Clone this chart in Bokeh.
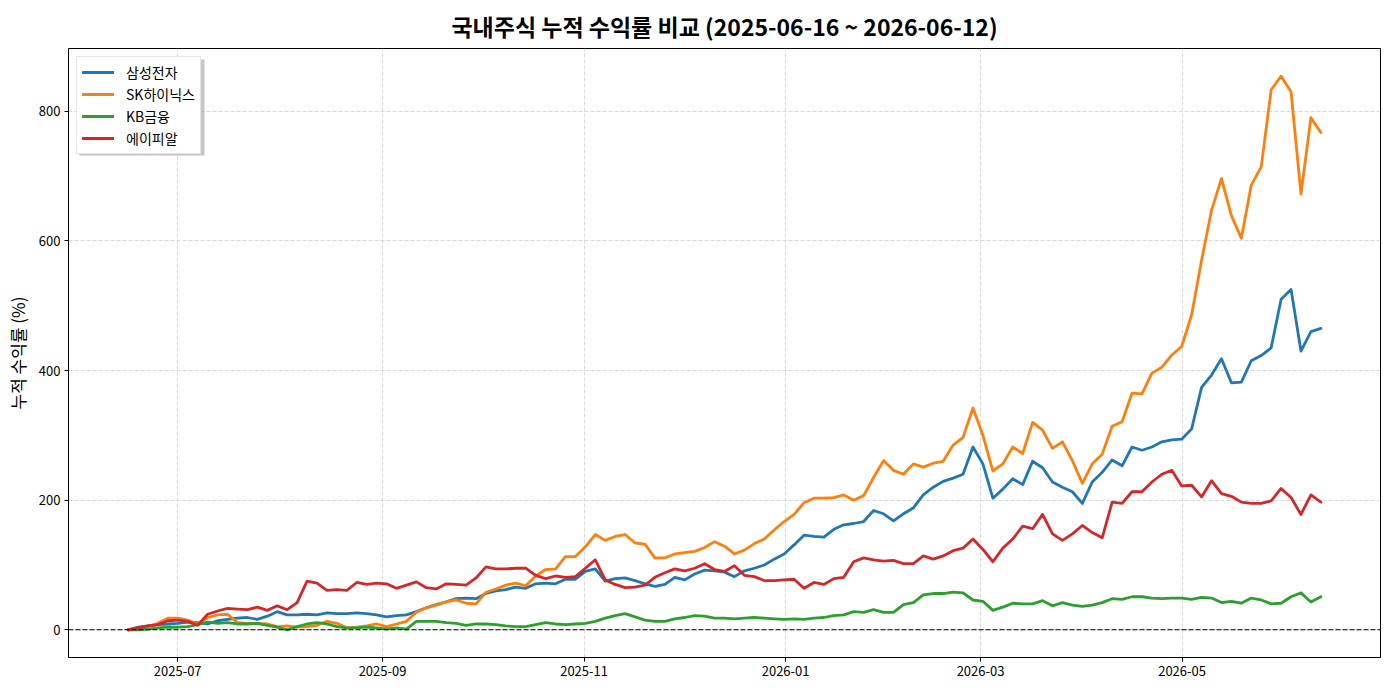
import pandas as pd
from bokeh.plotting import figure
from bokeh.models import (Range1d, FixedTicker, DatetimeTickFormatter, Span,
                          Legend, LegendItem, ColumnDataSource, BoxAnnotation)
from bokeh.embed import file_html
from bokeh.resources import INLINE

start_date = "2025-06-16"
end_date = "2026-06-12"
n_points = 121
dates = pd.date_range(start_date, end_date, periods=n_points)

samsung = [0, 4, 6, 8, 9, 10, 12, 11, 9, 14, 16, 18, 19, 16, 21, 28, 23, 23, 24, 23,
           26, 25, 25, 26, 25, 23, 20, 22, 23, 28, 34, 39, 43, 48, 49, 48, 56, 60, 62, 66,
           64, 71, 72, 71, 78, 78, 90, 94, 75, 79, 80, 76, 71, 67, 70, 81, 77, 86, 92, 91,
           89, 82, 91, 95, 100, 109, 117, 131, 146, 144, 143, 155, 162, 164, 167, 184, 179, 168, 179, 188,
           208, 220, 229, 234, 240, 282, 256, 203, 217, 233, 224, 260, 250, 228, 220, 213, 195, 228, 243, 262,
           253, 282, 277, 282, 290, 293, 294, 310, 374, 393, 418, 381, 382, 415, 423, 435, 510, 525, 430, 460,
           465]
skhynix = [0, 2, 5, 10, 18, 18, 15, 9, 19, 23, 24, 11, 10, 10, 9, 5, 6, 4, 5, 7,
           13, 10, 3, 4, 6, 9, 5, 9, 13, 27, 34, 38, 43, 46, 41, 40, 58, 63, 69, 72,
           68, 83, 93, 94, 113, 113, 128, 147, 138, 144, 147, 134, 132, 111, 111, 117, 119, 121, 127, 136,
           129, 117, 123, 133, 140, 154, 167, 178, 196, 203, 203, 204, 208, 200, 207, 235, 261, 246, 240, 256,
           251, 257, 260, 285, 297, 342, 300, 245, 256, 282, 272, 320, 308, 280, 290, 261, 226, 256, 271, 314,
           321, 365, 364, 396, 405, 424, 437, 486, 570, 647, 696, 639, 604, 686, 714, 833, 854, 830, 672, 790,
           767]
kb = [0, 0, 1, 3, 4, 4, 5, 8, 12, 10, 11, 9, 9, 10, 7, 4, 0, 5, 9, 11,
      9, 5, 3, 3, 4, 3, 1, 3, 1, 13, 13, 13, 11, 10, 7, 9, 9, 8, 6, 5,
      5, 8, 11, 9, 8, 9, 10, 13, 18, 22, 25, 20, 15, 13, 13, 17, 19, 22, 21, 18,
      18, 17, 18, 19, 18, 17, 16, 17, 16, 18, 19, 22, 23, 28, 27, 31, 27, 27, 39, 42,
      54, 56, 56, 58, 57, 46, 44, 30, 35, 41, 40, 40, 45, 37, 42, 38, 36, 38, 42, 48,
      47, 51, 51, 49, 48, 49, 49, 47, 50, 49, 42, 44, 41, 49, 46, 40, 41, 51, 57, 43,
      51]
apr = [0, 3, 6, 8, 14, 15, 13, 7, 24, 29, 33, 32, 31, 35, 30, 37, 31, 42, 75, 72,
       61, 62, 61, 73, 70, 72, 71, 64, 69, 74, 65, 63, 71, 70, 69, 80, 97, 94, 94, 95,
       95, 84, 79, 83, 81, 82, 95, 108, 77, 70, 65, 66, 69, 81, 88, 94, 91, 95, 102, 93,
       90, 99, 84, 82, 76, 76, 77, 78, 64, 73, 70, 79, 81, 105, 111, 108, 106, 107, 102, 102,
       114, 109, 114, 122, 126, 140, 124, 105, 126, 140, 160, 156, 178, 148, 138, 148, 161, 150, 142, 197,
       195, 213, 213, 228, 240, 246, 222, 223, 205, 230, 210, 206, 197, 195, 195, 199, 218, 204, 178, 208,
       197]

names = ["삼성전자", "SK하이닉스", "KB금융", "에이피알"]
colors = ["#1f77b4", "#ff7f0e", "#2ca02c", "#d62728"]
tick_dates = ["2025-07-01", "2025-09-01", "2025-11-01", "2026-01-01", "2026-03-01", "2026-05-01"]
y_ticks = [0, 200, 400, 600, 800]
title_text = "국내주식 누적 수익률 비교 (2025-06-16 ~ 2026-06-12)"
y_label = "누적 수익률 (%)"

FONT = "Noto Sans CJK KR"

src = ColumnDataSource(dict(date=dates, s0=samsung, s1=skhynix, s2=kb, s3=apr))

span = dates[-1] - dates[0]
x_pad = span * 0.05
all_vals = samsung + skhynix + kb + apr
lo, hi = min(all_vals), max(all_vals)
y_pad = (hi - lo) * 0.05

p = figure(width=1390, height=690, x_axis_type="datetime",
           x_range=Range1d(dates[0] - x_pad, dates[-1] + x_pad),
           y_range=Range1d(lo - y_pad, hi + y_pad),
           output_backend="svg", toolbar_location=None,
           min_border_left=68, min_border_right=10,
           min_border_top=48, min_border_bottom=33)

p.title.text = title_text
p.title.align = "center"
p.title.vertical_align = "top"
p.title.standoff = 8
p.title.text_font = FONT
p.title.text_font_size = "23px"
p.title.text_font_style = "bold"
p.title.text_color = "black"

renderers = []
for i, (name, c) in enumerate(zip(names, colors)):
    r = p.line(x="date", y=f"s{i}", source=src, line_width=2.8, line_color=c,
               line_join="round", line_cap="round")
    renderers.append(r)

zero = Span(location=0, dimension="width", line_color="black",
            line_width=1.1, line_dash="5 2")
p.add_layout(zero)

tick_ms = [int(t.value // 10**6) for t in pd.to_datetime(tick_dates)]
p.xaxis.ticker = FixedTicker(ticks=tick_ms)
p.xaxis.formatter = DatetimeTickFormatter(days="%Y-%m", months="%Y-%m", years="%Y-%m")
p.yaxis.ticker = FixedTicker(ticks=y_ticks)

for ax in (p.xaxis, p.yaxis):
    ax.major_label_text_font = FONT
    ax.major_label_text_font_size = "13px"
    ax.major_label_text_color = "black"
    ax.axis_line_color = "black"
    ax.major_tick_line_color = "black"
    ax.minor_tick_line_color = None
    ax.major_tick_out = 4
    ax.major_tick_in = 0
    ax.major_label_standoff = 4

p.yaxis.axis_label = y_label
p.yaxis.axis_label_text_font = FONT
p.yaxis.axis_label_text_font_size = "17px"
p.yaxis.axis_label_text_font_style = "normal"
p.yaxis.axis_label_text_color = "black"
p.yaxis.axis_label_standoff = 6

p.grid.grid_line_color = "#cfcfcf"
p.grid.grid_line_dash = "4 2"
p.grid.grid_line_width = 0.8

p.outline_line_color = "black"
p.outline_line_width = 1
p.background_fill_color = "white"

shadow = BoxAnnotation(left=79, right=204, top=59, bottom=155,
                       left_units="canvas", right_units="canvas",
                       top_units="canvas", bottom_units="canvas",
                       fill_color="#a0a0a0", fill_alpha=0.6, line_color=None)
p.add_layout(shadow)

legend = Legend(items=[LegendItem(label=n, renderers=[r]) for n, r in zip(names, renderers)],
                location="top_left")
legend.label_text_font = FONT
legend.label_text_font_size = "14px"
legend.label_text_color = "black"
legend.glyph_width = 32
legend.glyph_height = 18
legend.label_height = 18
legend.label_standoff = 12
legend.spacing = 2
legend.padding = 5
legend.margin = 8
legend.border_line_color = "#cccccc"
legend.border_line_width = 1
legend.background_fill_alpha = 1.0
p.add_layout(legend)

open("out.html", "w").write(file_html(p, INLINE))
